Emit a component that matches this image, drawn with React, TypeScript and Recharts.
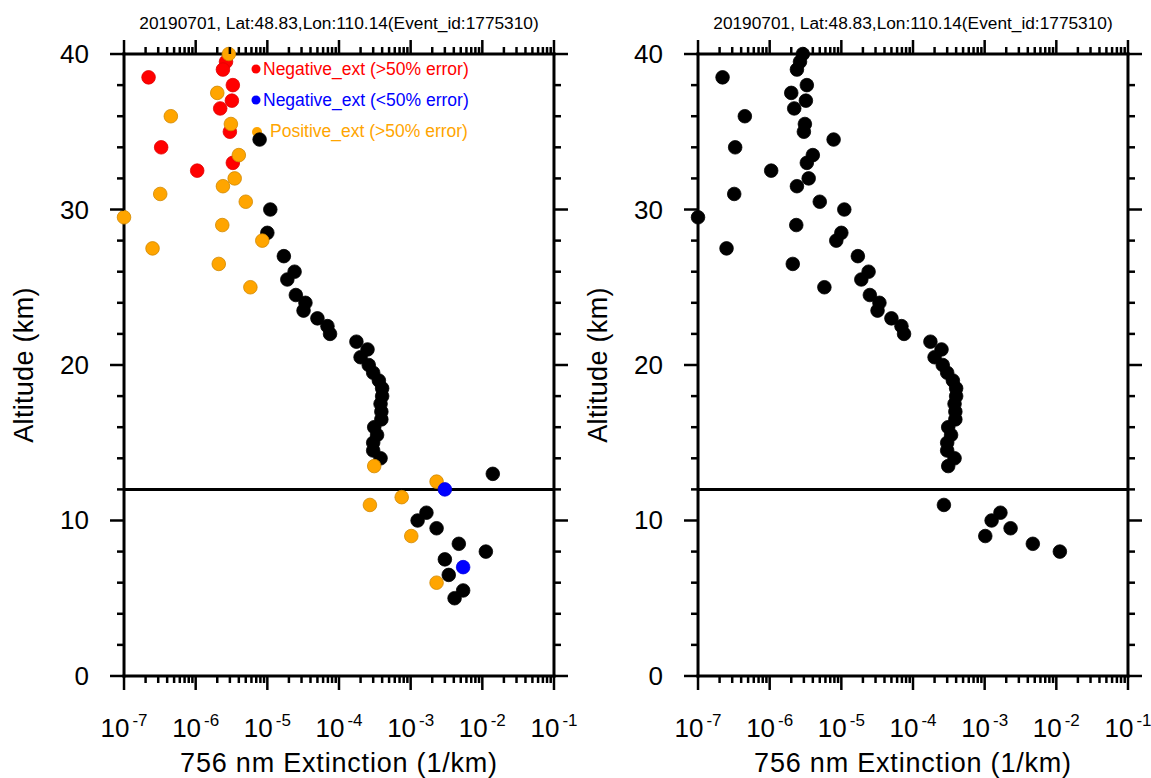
import React from "react";
import { ScatterChart, Scatter, XAxis, YAxis, ReferenceLine } from "recharts";

// altitude (km) / extinction (1/km), split by the legend categories
const blackAlt = [34.5, 30, 28.5, 27, 26, 25.5, 24.5, 24, 23.5, 23, 22.5, 22, 21.5, 21, 20.5, 20, 19.5, 19, 18.5, 18, 17.5, 17, 16.5, 16, 15.5, 15, 14.5, 14, 13, 10.5, 10, 9.5, 8.5, 8, 7.5, 6.5, 5.5, 5];
const blackExt = [7.8e-6, 1.1e-5, 1.0e-5, 1.7e-5, 2.4e-5, 1.9e-5, 2.5e-5, 3.4e-5, 3.2e-5, 5.0e-5, 6.9e-5, 7.5e-5, 1.75e-4, 2.5e-4, 2.0e-4, 2.6e-4, 3.0e-4, 3.6e-4, 4.0e-4, 4.0e-4, 3.8e-4, 3.9e-4, 3.9e-4, 3.1e-4, 3.4e-4, 3.0e-4, 3.0e-4, 3.8e-4, 1.4e-2, 1.66e-3, 1.25e-3, 2.3e-3, 4.7e-3, 1.12e-2, 3.0e-3, 3.4e-3, 5.4e-3, 4.1e-3];

const redAlt = [39.5, 39, 38.5, 38, 37, 36.5, 35, 34, 33, 32.5];
const redExt = [2.65e-6, 2.4e-6, 2.2e-7, 3.3e-6, 3.2e-6, 2.2e-6, 3.0e-6, 3.3e-7, 3.3e-6, 1.05e-6];

const orangeAlt = [40, 37.5, 36, 35.5, 33.5, 32, 31.5, 31, 30.5, 29.5, 29, 28, 27.5, 26.5, 25, 13.5, 12.5, 11.5, 11, 9, 6];
const orangeExt = [2.9e-6, 2.0e-6, 4.5e-7, 3.1e-6, 4.0e-6, 3.5e-6, 2.4e-6, 3.2e-7, 5.0e-6, 1.0e-7, 2.35e-6, 8.5e-6, 2.5e-7, 2.1e-6, 5.8e-6, 3.1e-4, 2.3e-3, 7.5e-4, 2.7e-4, 1.02e-3, 2.3e-3];

const blueAlt = [12, 7];
const blueExt = [3.0e-3, 5.4e-3];

// levels that do not appear in the right-hand panel
const rightHidden = [13, 12.5, 12, 11.5, 7.5, 7, 6.5, 6, 5.5, 5];

const xMajor = [1e-7, 1e-6, 1e-5, 1e-4, 1e-3, 1e-2, 1e-1];
const xMinor = xMajor.slice(0, -1).flatMap((d) => [2, 3, 4, 5, 6, 7, 8, 9].map((m) => d * m));
const yMajor = [0, 10, 20, 30, 40];
const yMinor = [2, 4, 6, 8, 12, 14, 16, 18, 22, 24, 26, 28, 32, 34, 36, 38];

const title = "20190701, Lat:48.83,Lon:110.14(Event_id:1775310)";
const xTitle = "756 nm Extinction (1/km)";
const yTitle = "Altitude (km)";

const legendItems = [
  { label: "Negative_ext (>50% error)", color: "#ff0000" },
  { label: "Negative_ext (<50% error)", color: "#0000ff" },
  { label: "Positive_ext (>50% error)", color: "#ffa500" },
];

const toPoints = (alt: number[], ext: number[]) => alt.map((a, i) => ({ x: ext[i], y: a }));

const H = 778;
const FONT = '"Liberation Sans", Arial, Helvetica, sans-serif';
const THIN = 0.01; // axes must be > 0 in size to render, but should not shift the plot
const axisLine = { stroke: "#000", strokeWidth: 3, strokeLinecap: "square" };

type Side = "bottom" | "top" | "left" | "right";

// outward tick mark, drawn by hand, with an optional label
const tickMark = (side: Side, len: number, label?: (p: any) => React.ReactNode) => (p: any) => {
  const { x, y } = p;
  const x2 = side === "left" ? x - len : side === "right" ? x + len : x;
  const y2 = side === "bottom" ? y + len : side === "top" ? y - len : y;
  return (
    <g>
      <line x1={x} y1={y} x2={x2} y2={y2} stroke="#000" strokeWidth={2.5} />
      {label ? label(p) : null}
    </g>
  );
};

const powerLabel = ({ x, y, payload }: any) => (
  <text x={x} y={y + 61} textAnchor="middle" fontSize={26} fill="#000" fontFamily={FONT}>
    10
    <tspan dx={3} dy={-11} fontSize={17}>
      {Math.round(Math.log10(payload.value))}
    </tspan>
  </text>
);

const altLabel = ({ x, y, payload }: any) => (
  <text x={x - 35} y={y} dy={9} textAnchor="end" fontSize={26} fill="#000" fontFamily={FONT}>
    {payload.value}
  </text>
);

const dot = (fill: string, stroke: string) => (p: any) => (
  <circle cx={p.cx} cy={p.cy} r={6.8} fill={fill} stroke={stroke} strokeWidth={0.8} />
);
const noDot = () => <g />;

type Series = { data: { x: number; y: number }[]; fill: string; stroke: string };

function Panel({ left, width, margin, series, legend }: { left: number; width: number; margin: any; series: Series[]; legend: boolean }) {
  const pl = margin.left;
  const pr = width - margin.right;
  const pt = margin.top;
  const pb = H - margin.bottom;
  const cx = (pl + pr) / 2;
  const cy = (pt + pb) / 2;
  const common = { tickSize: 0, tickMargin: 0, tickLine: false, interval: 0 };
  const xCommon = { type: "number", scale: "log", domain: [1e-7, 1e-1], height: THIN, ...common };
  const yCommon = { type: "number", domain: [0, 40], width: THIN, ...common };
  const all = series.flatMap((s) => s.data);
  return (
    <div style={{ position: "absolute", left, top: 0, width, height: H }}>
      <svg width={width} height={H} style={{ position: "absolute", left: 0, top: 0, overflow: "visible" }} fontFamily={FONT}>
        <text x={cx} y={29} textAnchor="middle" fontSize={17.3}>
          {title}
        </text>
        <text x={cx} y={772} textAnchor="middle" fontSize={27} letterSpacing={0.8}>
          {xTitle}
        </text>
        <text x={pl - 91} y={cy} textAnchor="middle" fontSize={27} letterSpacing={0.3} transform={`rotate(-90, ${pl - 91}, ${cy})`}>
          {yTitle}
        </text>
        {legend &&
          legendItems.map((it, i) => {
            const yy = 69 + i * 31;
            const last = i === legendItems.length - 1;
            return (
              <g key={it.label}>
                <circle cx={pl + 132 + (last ? 1 : 0)} cy={yy + (last ? 1 : 0)} r={last ? 5 : 4.5} fill={it.color} />
                <text x={pl + (last ? 146 : 139)} y={yy + 6} fontSize={17.5} fill={it.color}>
                  {it.label}
                </text>
              </g>
            );
          })}
      </svg>
      <div style={{ position: "absolute", left: 0, top: 0 }}>
        <ScatterChart width={width} height={H} margin={margin}>
          <XAxis dataKey="x" {...(xCommon as any)} ticks={xMajor} axisLine={axisLine} tick={tickMark("bottom", 14, powerLabel)} />
          <XAxis xAxisId="bm" dataKey="x" {...(xCommon as any)} ticks={xMinor} axisLine={false} tick={tickMark("bottom", 7)} />
          <XAxis xAxisId="t" dataKey="x" orientation="top" {...(xCommon as any)} ticks={xMajor} axisLine={axisLine} tick={tickMark("top", 14)} />
          <XAxis xAxisId="tm" dataKey="x" orientation="top" {...(xCommon as any)} ticks={xMinor} axisLine={false} tick={tickMark("top", 7)} />
          <YAxis dataKey="y" {...(yCommon as any)} ticks={yMajor} axisLine={axisLine} tick={tickMark("left", 14, altLabel)} />
          <YAxis yAxisId="lm" dataKey="y" {...(yCommon as any)} ticks={yMinor} axisLine={false} tick={tickMark("left", 7)} />
          <YAxis yAxisId="r" dataKey="y" orientation="right" {...(yCommon as any)} ticks={yMajor} axisLine={axisLine} tick={tickMark("right", 14)} />
          <YAxis yAxisId="rm" dataKey="y" orientation="right" {...(yCommon as any)} ticks={yMinor} axisLine={false} tick={tickMark("right", 7)} />
          <ReferenceLine y={12} stroke="#000" strokeWidth={3} />
          {/* invisible series so the frame axes get their ticks */}
          <Scatter xAxisId="bm" yAxisId="lm" data={all} shape={noDot} isAnimationActive={false} />
          <Scatter xAxisId="t" yAxisId="r" data={all} shape={noDot} isAnimationActive={false} />
          <Scatter xAxisId="tm" yAxisId="rm" data={all} shape={noDot} isAnimationActive={false} />
          {series.map((s, i) => (
            <Scatter key={i} data={s.data} fill={s.fill} shape={dot(s.fill, s.stroke)} isAnimationActive={false} />
          ))}
        </ScatterChart>
      </div>
    </div>
  );
}

export default function App() {
  const black = toPoints(blackAlt, blackExt);
  const red = toPoints(redAlt, redExt);
  const orange = toPoints(orangeAlt, orangeExt);
  const blue = toPoints(blueAlt, blueExt);
  const leftSeries: Series[] = [
    { data: black, fill: "#000000", stroke: "#000000" },
    { data: red, fill: "#ff0000", stroke: "#e00000" },
    { data: orange, fill: "#ffa500", stroke: "#d08800" },
    { data: blue, fill: "#0000ff", stroke: "#0000e0" },
  ];
  const all = [...black, ...red, ...orange, ...blue].filter((p) => !rightHidden.includes(p.y));
  const rightSeries: Series[] = [{ data: all, fill: "#000000", stroke: "#000000" }];
  return (
    <div style={{ position: "absolute", left: 0, top: 0, width: 1151, height: H, background: "#fff", fontFamily: FONT }}>
      <style>{`.recharts-surface { overflow: visible; }`}</style>
      <Panel left={0} width={576} margin={{ top: 54, right: 22, bottom: 102, left: 124 }} series={leftSeries} legend />
      <Panel left={576} width={575} margin={{ top: 54, right: 23, bottom: 102, left: 122 }} series={rightSeries} legend={false} />
    </div>
  );
}
